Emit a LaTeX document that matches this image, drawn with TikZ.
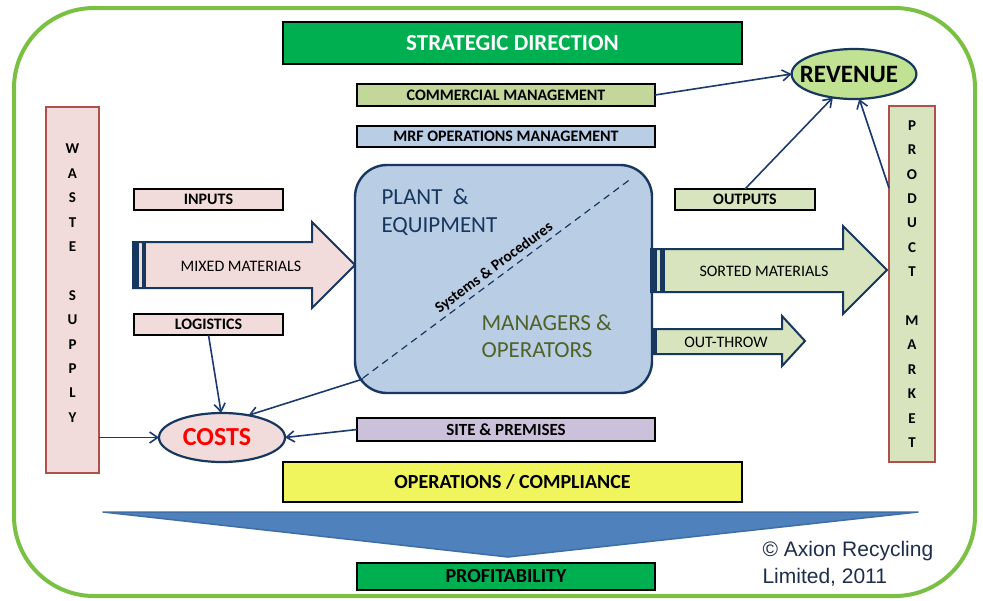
\documentclass[tikz,border=0pt]{standalone}
\usepackage{fontspec}
\setmainfont{Carlito}
\newfontfamily\arialfont{Liberation Sans}
\usetikzlibrary{arrows.meta,shapes.geometric,calc}
\definecolor{framegreen}{HTML}{7AC143}
\definecolor{stratgreen}{HTML}{00B050}
\definecolor{olivelight}{HTML}{C4D79B}
\definecolor{greenlight}{HTML}{D7E4BD}
\definecolor{bluelight}{HTML}{B9CDE5}
\definecolor{pinklight}{HTML}{F2DCDB}
\definecolor{lilac}{HTML}{CCC1DA}
\definecolor{yellowbox}{HTML}{F0F55E}
\definecolor{triblue}{HTML}{4F81BD}
\definecolor{triedge}{HTML}{3F6EA6}
\definecolor{navy}{HTML}{17375E}
\definecolor{arrownavy}{HTML}{1C3A6E}
\definecolor{redborder}{HTML}{B0504D}
\definecolor{olivetext}{HTML}{4F6228}
\definecolor{revfill}{HTML}{C1E193}
\definecolor{copytext}{HTML}{1F2D4D}
\definecolor{costred}{HTML}{FF0000}
\tikzset{
  box/.style={draw=black, line width=1.6pt, inner sep=0pt, outer sep=0pt, font=\bfseries\fontsize{16}{18}\selectfont},
  column/.style={draw=redborder, line width=1.3pt, inner sep=0pt, outer sep=0pt, align=center, font=\bfseries\fontsize{15}{24.4}\selectfont},
  oval/.style={ellipse, draw=navy, line width=2.2pt, inner sep=0pt, outer sep=0pt},
  conn/.style={draw=arrownavy, line width=1.6pt, -{Straight Barb[length=8pt,width=11pt,line width=1.6pt]}},
  bigarrow/.style={draw=navy, line width=2pt, line join=miter},
  armtext/.style={font=\fontsize{16}{18}\selectfont},
}
\begin{document}
\begin{tikzpicture}[x=1pt,y=-1pt]
\useasboundingbox (0,0) rectangle (983,600);
\fill[white] (0,0) rectangle (983,600);
% outer frame
\draw[framegreen, line width=4pt, rounded corners=80pt] (14,8) rectangle (975,596);

% top boxes
\node[box, fill=stratgreen, text=white, minimum width=459pt, minimum height=42pt, font=\bfseries\fontsize{23}{26}\selectfont] (strat) at (512.5,43) {STRATEGIC DIRECTION};
\node[box, fill=olivelight, minimum width=298pt, minimum height=22pt] (comm) at (506,95) {COMMERCIAL MANAGEMENT};
\node[box, fill=bluelight, minimum width=298pt, minimum height=21pt] (mrf) at (506,136.5) {MRF OPERATIONS MANAGEMENT};

% revenue
\node[oval, fill=revfill, minimum width=124pt, minimum height=50pt, font=\bfseries\fontsize{25}{27}\selectfont] (rev) at (854,74) {\hspace{-10pt}REVENUE};

% side columns
\node[column, fill=pinklight, minimum width=53pt, minimum height=366pt] (waste) at (72.5,290) {W\\A\\S\\T\\E\\\mbox{}\\S\\U\\P\\P\\L\\Y\\[-11pt]\mbox{}};
\node[column, fill=greenlight, minimum width=46pt, minimum height=356pt] (prod) at (912,284) {P\\R\\O\\D\\U\\C\\T\\\mbox{}\\M\\A\\R\\K\\E\\T};

% inputs side
\node[box, fill=pinklight, minimum width=149pt, minimum height=21pt] (inputs) at (208.5,199.5) {INPUTS};
\node[box, fill=pinklight, minimum width=149pt, minimum height=21pt] (logi) at (208.5,324.5) {LOGISTICS};
\node[box, fill=greenlight, minimum width=140pt, minimum height=21pt] (outputs) at (745,199.5) {OUTPUTS};

% mixed materials arrow
\draw[bigarrow, fill=pinklight] (133,242) -- (312,242) -- (312,222) -- (355,265) -- (312,308) -- (312,288) -- (133,288) -- cycle;
\fill[navy] (133,241) rectangle (139,289);
\fill[navy] (142,241) rectangle (146,289);
\node[armtext] (mixed) at (241,266) {MIXED MATERIALS};

% central box
\node[draw=navy, fill=bluelight, rounded corners=32pt, line width=2.4pt, minimum width=297pt, minimum height=228pt, inner sep=0pt, outer sep=0pt] (plant) at (503.5,279) {};
\draw[navy, line width=1.2pt, dash pattern=on 7pt off 5pt] (363,378) -- node[pos=0.51, sloped, above=-0.5pt, text=black, font=\bfseries\fontsize{15.5}{17}\selectfont] {Systems \& Procedures} (632,178);
\node[anchor=base west, align=left, text=navy, font=\fontsize{23}{28}\selectfont] (plantlbl) at (378,232) {PLANT~~\&\\EQUIPMENT};
\node[anchor=base west, align=left, text=olivetext, font=\fontsize{23}{27}\selectfont] (mgrlbl) at (478,357) {MANAGERS \&\\OPERATORS};

% sorted materials arrow
\draw[bigarrow, fill=greenlight] (651,249) -- (843,249) -- (843,226) -- (887,270) -- (843,314) -- (843,292) -- (651,292) -- cycle;
\fill[navy] (650,248) rectangle (657,293);
\fill[navy] (660,248) rectangle (665,293);
\node[armtext] (sorted) at (764,271) {SORTED MATERIALS};

% out-throw arrow
\draw[bigarrow, fill=greenlight] (652,329) -- (782,329) -- (782,316) -- (805,341) -- (782,366) -- (782,354) -- (652,354) -- cycle;
\fill[navy] (652,328) rectangle (657,355);
\node[armtext] (outthrow) at (726,342) {OUT-THROW};

% costs
\node[oval, fill=pinklight, minimum width=126pt, minimum height=49pt, text=costred, font=\bfseries\fontsize{26}{28}\selectfont] (costs) at (222,437.5) {\hspace{-10pt}COSTS};
\node[box, fill=lilac, minimum width=298pt, minimum height=23pt, font=\bfseries\fontsize{17}{19}\selectfont] (site) at (506,429.5) {SITE \& PREMISES};

% bottom
\node[box, fill=yellowbox, minimum width=459pt, minimum height=40pt, font=\bfseries\fontsize{20}{22}\selectfont] (ops) at (512.5,482) {OPERATIONS / COMPLIANCE};
\draw[triedge, fill=triblue, line width=1.5pt, line join=round] (103,512) -- (918,512) -- (508,557) -- cycle;
\node[box, fill=stratgreen, minimum width=298pt, minimum height=27pt, font=\bfseries\fontsize{20}{22}\selectfont] (profit) at (506,576.5) {PROFITABILITY};
\node[anchor=base west, align=left, text=copytext, font=\arialfont\fontsize{21}{27}\selectfont] (copy) at (759,583) {\textcopyright{} Axion Recycling\\Limited, 2011};

% connectors
\draw[conn] (comm.east) -- (rev.west);
\draw[conn] (outputs.north) -- (rev.228);
\draw[conn] ($(prod.north west)+(0,82)$) -- (rev.282);
\draw[conn] (logi.south) -- (costs.92);
\draw[conn] (waste.east |- costs.west) -- (costs.west);
\draw[conn] ($(plant.south west)+(8,-14)$) -- (costs.40);
\draw[conn] (site.west) -- (costs.east);
\end{tikzpicture}
\end{document}
